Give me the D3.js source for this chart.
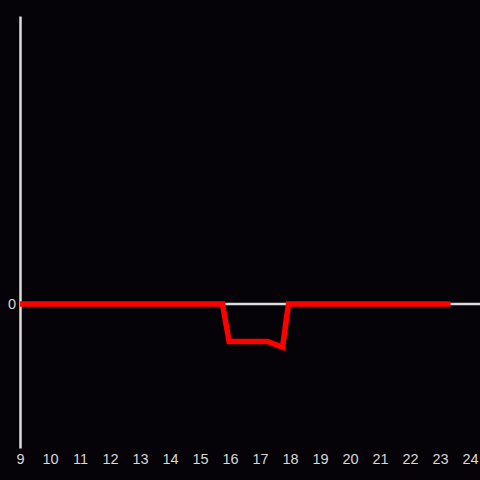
<!DOCTYPE html>
<html>
<head>
<meta charset="utf-8">
<script src="https://cdn.jsdelivr.net/npm/d3@7"></script>
<style>
  html, body { margin: 0; padding: 0; background: #050307; }
  svg { display: block; }
</style>
</head>
<body>
<div id="chart"></div>
<script>
const hours = [9, 15.75, 15.97, 17.25, 17.75, 17.95, 23.35];
const values = [0, 0, -0.26, -0.26, -0.3, 0, 0];
const xTicks = d3.range(9, 25);
const yTicks = [0];

const w = 480;
const h = 480;

const xScale = d3.scaleLinear()
                 .domain([9, 24])
                 .range([20, 470]);
const yScale = d3.scaleLinear()
                 .domain([-1, 2])
                 .range([448, 16]);

const svg = d3.select("#chart")
              .append("svg")
              .attr("width", w)
              .attr("height", h)
              .style("background", "#050307");

// zero line across the plot
svg.append("line")
   .attr("x1", xScale(9))
   .attr("x2", w)
   .attr("y1", yScale(0))
   .attr("y2", yScale(0))
   .attr("stroke", "#dddddd")
   .attr("stroke-width", 2.5);

const xAxis = d3.axisBottom(xScale).tickValues(xTicks).tickSize(0).tickPadding(6);
svg.append("g")
   .attr("transform", "translate(0, 448)")
   .call(xAxis)
   .call(g => g.select(".domain").remove())
   .call(g => g.selectAll("text")
               .attr("fill", "#d8d8d8")
               .style("font-family", "'Liberation Sans', Arial, sans-serif")
               .style("font-size", "14.5px"));

const yAxis = d3.axisLeft(yScale).tickValues(yTicks).tickFormat(d3.format("d")).tickSize(0).tickPadding(4);
svg.append("g")
   .attr("transform", "translate(20, 0)")
   .call(yAxis)
   .call(g => g.select(".domain").attr("stroke", "#dddddd").attr("stroke-width", 2.5))
   .call(g => g.selectAll("text")
               .attr("fill", "#d8d8d8")
               .style("font-family", "'Liberation Sans', Arial, sans-serif")
               .style("font-size", "14.5px"));

const line = d3.line()
               .x((d, i) => xScale(hours[i]))
               .y((d) => yScale(d));

svg.append("path")
   .datum(values)
   .attr("d", line)
   .attr("fill", "none")
   .attr("stroke", "#ff0000")
   .attr("stroke-width", 5.5)
   .attr("stroke-linejoin", "miter");
</script>
</body>
</html>
